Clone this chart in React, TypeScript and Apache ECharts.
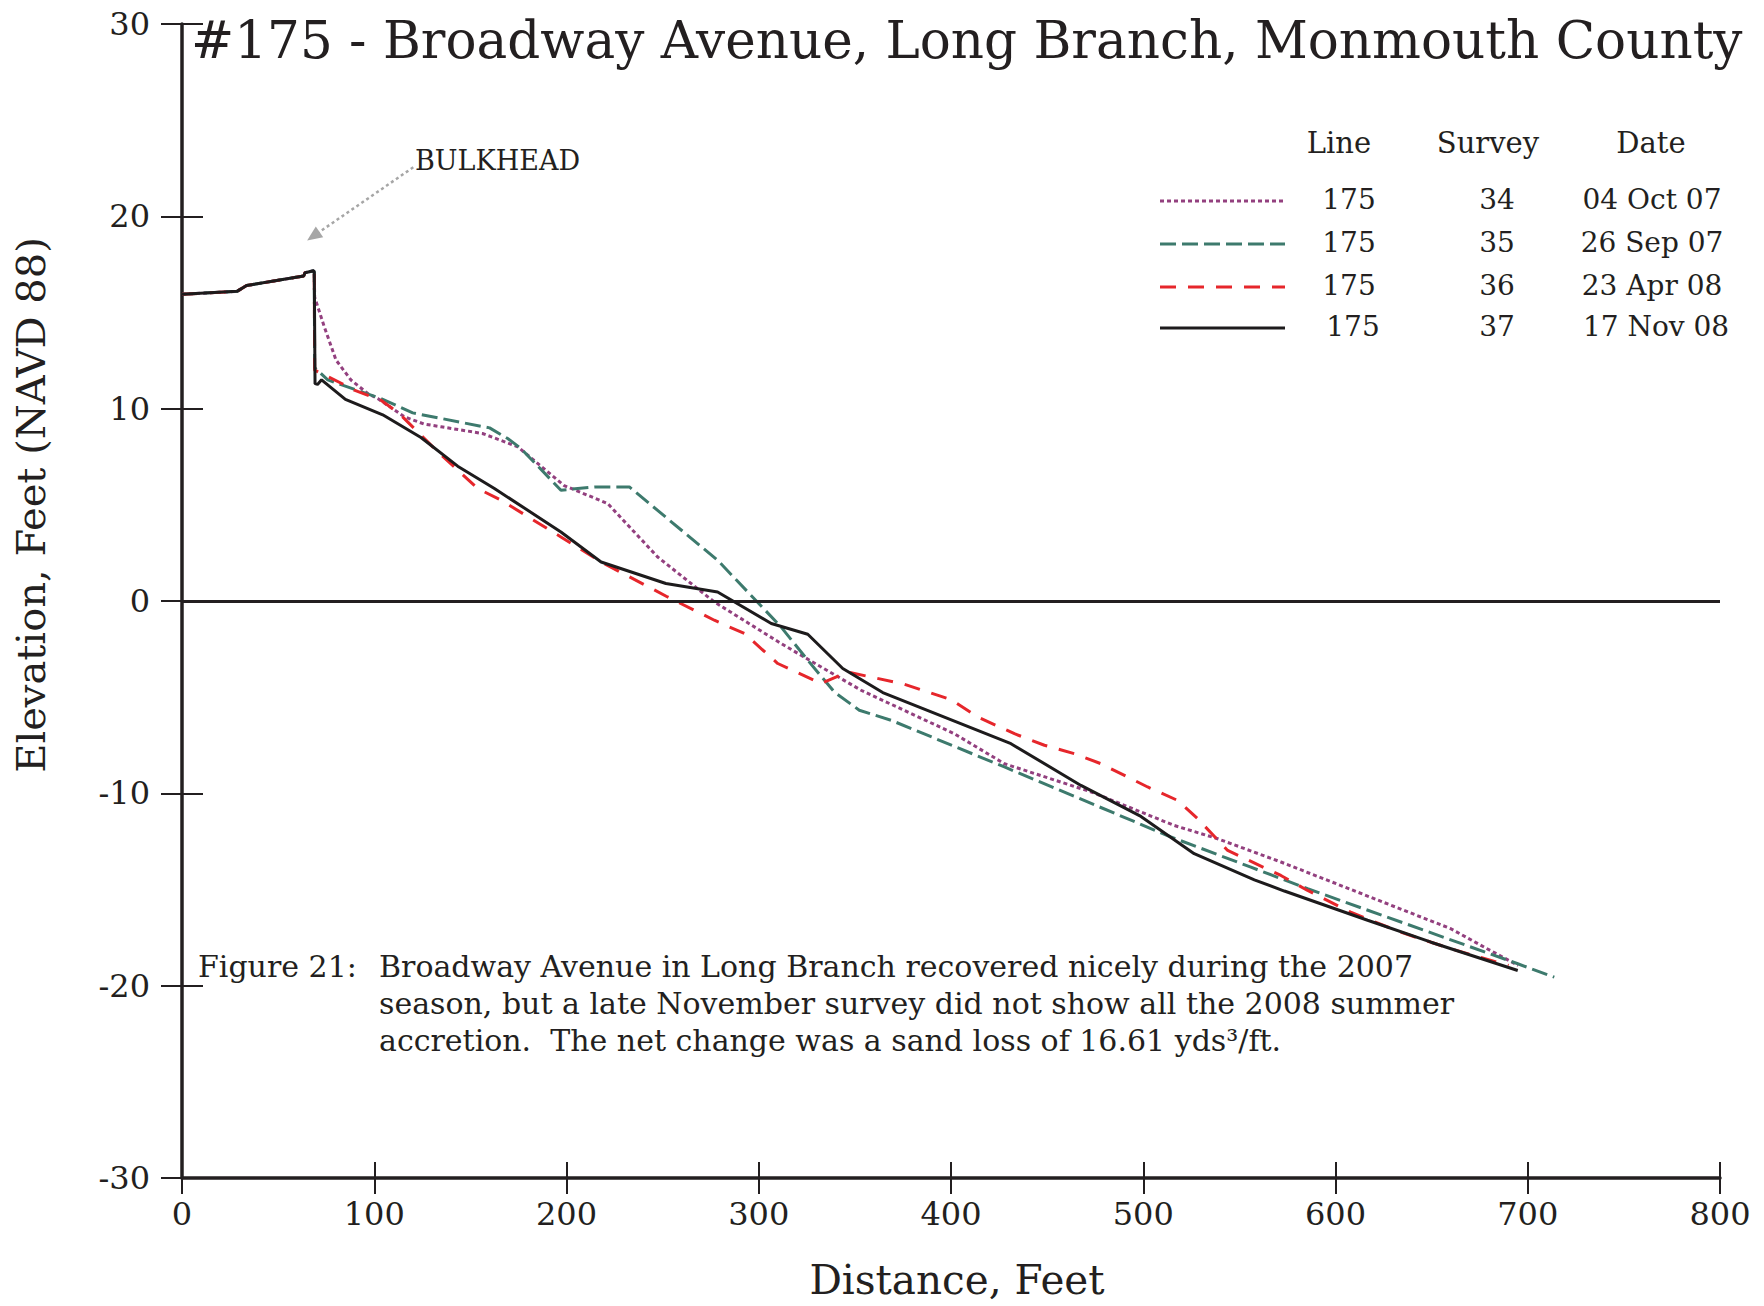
import React, { useEffect, useRef } from "react";
import * as echarts from "echarts";

// ---- Data (distance ft, elevation ft NAVD88) ----
const onshore: [number, number][] = [
  [0, 15.95], [28.6, 16.1], [33.6, 16.4], [63.3, 16.9], [64, 17.07], [68.5, 17.17], [68.8, 17.1],
];

const survey34: [number, number][] = [
  [69, 15.8], [74, 14.26], [80.1, 12.53], [87.9, 11.49], [96.6, 10.79], [101.8, 10.53], [115.6, 9.58],
  [126, 9.2], [134.7, 9.06], [156.3, 8.71], [174.6, 8.02], [198.8, 6.0], [221.4, 5.07], [247.4, 2.29],
  [276.9, -0.05], [311.6, -2.21], [322, -2.82], [353.2, -4.64], [401.7, -6.9], [427.8, -8.46],
  [473, -9.93], [516.1, -11.67], [538.7, -12.36], [571.6, -13.57], [660, -17.04], [677.4, -18.0], [695, -18.95],
];

const survey35: [number, number][] = [
  [69, 12.13], [75.8, 11.5], [81, 11.31], [103.5, 10.53], [120, 9.78], [160, 9.0], [169.4, 8.45],
  [176.3, 7.93], [197.1, 5.76], [214.5, 5.93], [232.7, 5.93], [278.6, 2.12], [311.6, -1.35],
  [325.5, -3.08], [339.3, -4.73], [352.3, -5.68], [368.8, -6.2], [427.8, -8.63], [514.4, -12.27],
  [556, -13.84], [585.5, -14.96], [694.8, -18.86], [713.8, -19.56],
];

const survey36: [number, number][] = [
  [69, 12.0], [85.3, 11.2], [89.6, 10.96], [103.5, 10.44], [113, 9.75], [121.7, 8.88], [133, 7.76],
  [153.8, 5.85], [166, 5.24], [197.1, 3.33], [218, 2.03], [252.6, 0.21], [276.9, -1.0], [292.5, -1.69],
  [309.9, -3.25], [332.4, -4.29], [346.3, -3.69], [375.8, -4.33], [400, -5.13], [413.9, -6.03],
  [433, -6.9], [448.6, -7.5], [464.2, -7.94], [478, -8.46], [502.3, -9.67], [517.9, -10.37],
  [528.3, -11.32], [543.9, -12.97], [571.6, -14.27], [585.5, -15.05], [607.9, -16.18], [633.9, -17.22],
  [660, -18.08], [690, -18.95],
];

const survey37: [number, number][] = [
  [69.2, 11.3], [70.5, 11.26], [72.6, 11.5], [85, 10.48], [104.4, 9.68], [124.3, 8.5], [143.4, 7.01],
  [162.5, 5.85], [197.1, 3.59], [218, 2.03], [251.7, 0.91], [278.6, 0.47], [306.5, -1.17], [325.5, -1.73],
  [343.7, -3.51], [364.5, -4.76], [431.2, -7.42], [467.6, -9.59], [498.8, -11.2], [526.5, -13.14],
  [557.8, -14.5], [573.4, -15.08], [616.7, -16.6], [649.7, -17.74], [694.8, -19.21],
];

const legendLines = ["175", "175", "175", "175"];
const legendSurveys = ["34", "35", "36", "37"];
const legendDates = ["04 Oct 07", "26 Sep 07", "23 Apr 08", "17 Nov 08"];
const legendHeaders = ["Line", "Survey", "Date"];

const bulkheadArrow = { from: [120.3, 22.55], to: [68.3, 18.97] };

const titleText = "#175 - Broadway Avenue, Long Branch, Monmouth County";
const xAxisTitle = "Distance, Feet";
const yAxisTitle = "Elevation, Feet (NAVD 88)";
const captionLabel = "Figure 21:";
const captionLines = [
  "Broadway Avenue in Long Branch recovered nicely during the 2007",
  "season, but a late November survey did not show all the 2008 summer",
  "accretion.  The net change was a sand loss of 16.61 yds\u00B3/ft.",
];

const FONT = "DejaVu Serif";
const INK = "#231f20";
const COLORS = ["#93407f", "#3d7a6d", "#e6262b", "#1d1b1c"];
const DASHES: (number[] | "solid")[] = [[4, 3], [16, 6], [16, 12], "solid"];

export default function App() {
  const ref = useRef<HTMLDivElement>(null);

  useEffect(() => {
    if (!ref.current) return;
    const chart = echarts.init(ref.current, undefined, { renderer: "svg" });

    const surveys = [survey34, survey35, survey36, survey37];
    const series: any[] = surveys.map((s, i) => ({
      type: "line",
      name: legendSurveys[i],
      data: onshore.concat(s),
      symbol: "none",
      silent: true,
      z: 2 + i,
      lineStyle: { color: COLORS[i], width: 3, type: DASHES[i], cap: "butt" },
    }));
    series[3].markLine = {
      silent: true,
      symbol: "none",
      label: { show: false },
      emphasis: { disabled: true },
      data: [
        { yAxis: 0, lineStyle: { color: INK, width: 3, type: "solid" } },
        [
          { coord: bulkheadArrow.from, symbol: "none" },
          {
            coord: bulkheadArrow.to,
            symbol: "triangle",
            symbolSize: [13, 15],
            lineStyle: { color: "#a6a6a6", width: 2.5, type: [3, 3] },
          },
        ],
      ],
    };

    const axisLineStyle = { color: INK, width: 3.5 };
    const tickStyle = { color: INK, width: 2 };
    const labelStyle = { fontFamily: FONT, fontSize: 32, color: INK };

    const legendRowsY = [199, 242, 285, 326];
    const graphic: any[] = [
      {
        type: "text",
        left: 191,
        top: 14,
        style: { text: titleText, font: `51.6px "${FONT}"`, fill: INK },
      },
      {
        type: "text",
        x: 31,
        y: 505,
        rotation: Math.PI / 2,
        style: { text: yAxisTitle, font: `40px "${FONT}"`, fill: INK, align: "center", verticalAlign: "middle" },
      },
      {
        type: "text",
        x: 957,
        y: 1280,
        style: { text: xAxisTitle, font: `40.5px "${FONT}"`, fill: INK, align: "center", verticalAlign: "middle" },
      },
      {
        type: "text",
        left: 415,
        top: 147,
        style: { text: "BULKHEAD", font: `27px "${FONT}"`, fill: INK },
      },
      {
        type: "text",
        left: 198,
        top: 951,
        style: { text: captionLabel, font: `30px "${FONT}"`, fill: INK },
      },
      ...captionLines.map((t, i) => ({
        type: "text",
        left: 379,
        top: 951 + i * 37,
        style: { text: t, font: `30px "${FONT}"`, fill: INK },
      })),
      ...legendHeaders.map((h, i) => ({
        type: "text",
        x: [1339, 1488, 1651][i],
        y: 143,
        style: { text: h, font: `29px "${FONT}"`, fill: INK, align: "center", verticalAlign: "middle" },
      })),
      ...legendRowsY.flatMap((y, i) => [
        {
          type: "line",
          shape: { x1: 1160, y1: y + 2, x2: 1285, y2: y + 2 },
          style: {
            stroke: COLORS[i],
            lineWidth: 3,
            lineDash: DASHES[i] === "solid" ? null : DASHES[i],
          },
        },
        {
          type: "text",
          x: 1349 + (i === 3 ? 4 : 0),
          y,
          style: { text: legendLines[i], font: `28px "${FONT}"`, fill: INK, align: "center", verticalAlign: "middle" },
        },
        {
          type: "text",
          x: 1497,
          y,
          style: { text: legendSurveys[i], font: `28px "${FONT}"`, fill: INK, align: "center", verticalAlign: "middle" },
        },
        {
          type: "text",
          x: 1652 + (i === 3 ? 4 : 0),
          y,
          style: { text: legendDates[i], font: `28px "${FONT}"`, fill: INK, align: "center", verticalAlign: "middle" },
        },
      ]),
    ];

    chart.setOption({
      animation: false,
      backgroundColor: "#ffffff",
      grid: { left: 182, right: 44, top: 24, bottom: 128, containLabel: false },
      xAxis: [
        {
          type: "value",
          min: 0,
          max: 800,
          interval: 100,
          position: "bottom",
          axisLine: { onZero: false, lineStyle: axisLineStyle },
          axisTick: { length: 16, lineStyle: tickStyle },
          axisLabel: { ...labelStyle, margin: 20 },
          splitLine: { show: false },
        },
        {
          type: "value",
          min: 0,
          max: 800,
          interval: 100,
          position: "bottom",
          axisLine: { show: false, onZero: false },
          axisTick: { inside: true, length: 16, lineStyle: tickStyle },
          axisLabel: { show: false },
          splitLine: { show: false },
        },
      ],
      yAxis: [
        {
          type: "value",
          min: -30,
          max: 30,
          interval: 10,
          position: "left",
          axisLine: { onZero: false, lineStyle: axisLineStyle },
          axisTick: { length: 21, lineStyle: tickStyle },
          axisLabel: { ...labelStyle, margin: 32 },
          splitLine: { show: false },
        },
        {
          type: "value",
          min: -30,
          max: 30,
          interval: 10,
          position: "left",
          axisLine: { show: false, onZero: false },
          axisTick: { inside: true, length: 21, lineStyle: tickStyle },
          axisLabel: { show: false },
          splitLine: { show: false },
        },
      ],
      series,
      graphic,
    });

    return () => chart.dispose();
  }, []);

  return (
    <div
      ref={ref}
      style={{ position: "absolute", left: 0, top: 0, width: 1764, height: 1306, background: "#fff" }}
    />
  );
}
